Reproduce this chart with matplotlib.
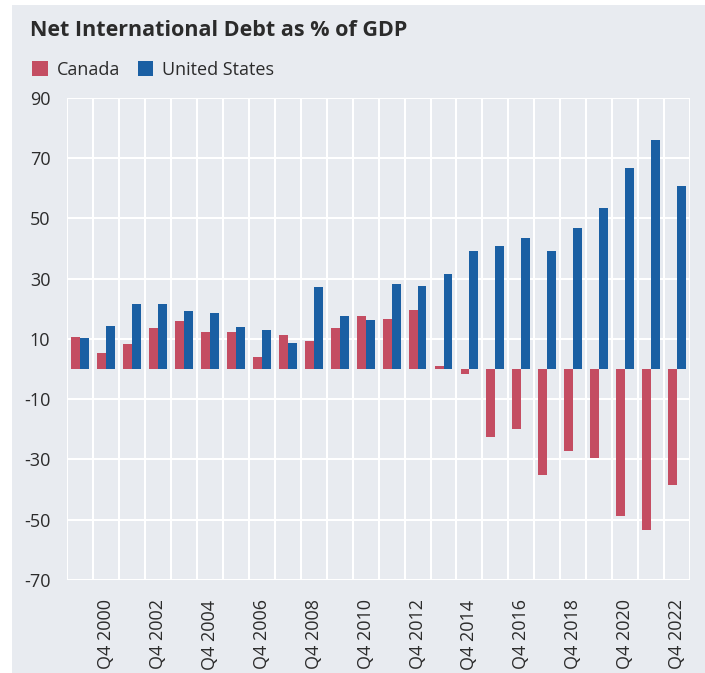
import matplotlib.pyplot as plt
from matplotlib.patches import Rectangle
import numpy as np

plt.rcParams['font.family'] = ['Open Sans', 'DejaVu Sans']
plt.rcParams['axes.unicode_minus'] = False

# net international debt, % of GDP, Q4 of each year
years = list(range(1999, 2023))
canada = [10.5, 5.4, 8.2, 13.5, 15.9, 12.2, 12.2, 4.0, 11.4, 9.3, 13.5, 17.6,
          16.7, 19.6, 1.1, -1.7, -22.7, -19.8, -35.1, -27.2, -29.6, -48.7,
          -53.5, -38.4]
united_states = [10.2, 14.4, 21.6, 21.6, 19.3, 18.7, 14.0, 13.0, 8.7, 27.2,
                 17.6, 16.3, 28.2, 27.7, 31.5, 39.1, 41.0, 43.4, 39.1, 46.7,
                 53.4, 66.7, 76.1, 60.9]
tick_labels = ["Q4 %d" % y for y in years]

bg = "#E8EBF0"
col_can = "#C44D62"
col_us = "#1A5FA3"
txt = "#2B2B2B"

fig = plt.figure(figsize=(7.05, 6.73), dpi=100)
fig.patch.set_facecolor("white")
fig.patches.append(Rectangle((12 / 705, 0), 1, 1 - 5 / 673,
                             transform=fig.transFigure, facecolor=bg,
                             edgecolor="none", zorder=-10))

ax = fig.add_axes([0.095, 0.1382, 0.884, 0.7162])
ax.set_facecolor(bg)

x = np.arange(len(years))
w = 0.345
ax.bar(x - w / 2, canada, w, color=col_can, zorder=3, label="Canada")
ax.bar(x + w / 2, united_states, w, color=col_us, zorder=3,
       label="United States")

ax.set_xlim(-0.5, len(years) - 0.5)
ax.set_ylim(-70, 90)
ax.set_yticks(np.arange(-70, 91, 20))
ax.set_xticks(x[1::2])
ax.set_xticklabels(tick_labels[1::2], rotation=90)
ax.set_xticks(np.arange(-0.5, len(years), 1), minor=True)

ax.grid(True, which="minor", axis="x", color="white", lw=1.5, zorder=1)
ax.grid(True, which="major", axis="y", color="white", lw=1.5, zorder=1)
ax.grid(False, which="major", axis="x")
for s in ax.spines.values():
    s.set_visible(False)
ax.tick_params(axis="both", which="both", length=0, labelsize=13,
               labelcolor=txt)
ax.tick_params(axis="y", pad=12)
ax.tick_params(axis="x", pad=14)

fig.text(30 / 705, 1 - 30 / 673, "Net International Debt as % of GDP",
         fontsize=15.5, fontweight="bold", color=txt, va="center")
leg = ax.legend(loc="lower left", bbox_to_anchor=(25 / 705, 1 - 86 / 673),
                bbox_transform=fig.transFigure, ncol=2, frameon=False,
                fontsize=13, handlelength=0.85, handleheight=0.85,
                handletextpad=0.5, columnspacing=1.0, borderaxespad=0)
for t in leg.get_texts():
    t.set_color(txt)

fig.savefig("out.png", dpi=100, facecolor=fig.get_facecolor())
